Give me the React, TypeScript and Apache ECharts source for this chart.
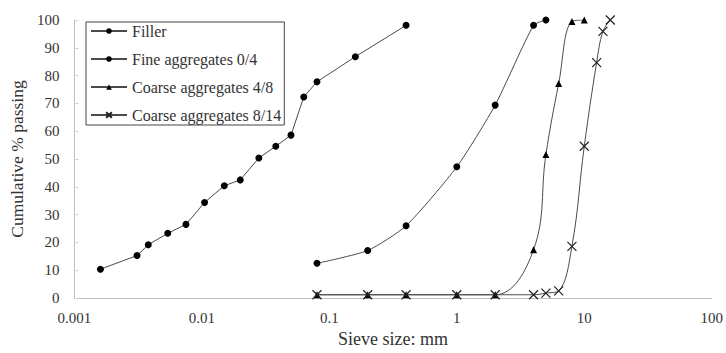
import React, { useEffect, useRef } from "react";
import * as echarts from "echarts";

const xTickLabels = ["0.001", "0.01", "0.1", "1", "10", "100"];

const fillerSizes = [0.0016, 0.0031, 0.0038, 0.0054, 0.0075, 0.0105, 0.015, 0.02, 0.028, 0.038, 0.05, 0.063, 0.08, 0.16, 0.4];
const fillerPassing = [10.4, 15.3, 19.2, 23.3, 26.5, 34.4, 40.4, 42.5, 50.4, 54.6, 58.6, 72.3, 77.8, 86.8, 98.1];

const fineSizes = [0.08, 0.2, 0.4, 1, 2, 4, 5];
const finePassing = [12.5, 17.1, 26.0, 47.2, 69.4, 98.1, 100];

const coarse48Sizes = [0.08, 0.2, 0.4, 1, 2, 4, 5, 6.3, 8, 10];
const coarse48Passing = [1.2, 1.2, 1.2, 1.2, 1.2, 17.4, 51.6, 77.2, 99.5, 100];

const coarse814Sizes = [0.08, 0.2, 0.4, 1, 2, 4, 5, 6.3, 8, 10, 12.5, 14, 16];
const coarse814Passing = [1.2, 1.2, 1.2, 1.2, 1.2, 1.2, 1.8, 2.6, 18.6, 54.6, 84.7, 95.9, 100];

const seriesNames = ["Filler", "Fine aggregates 0/4", "Coarse aggregates 4/8", "Coarse aggregates 8/14"];

const FONT = "'Liberation Serif', 'DejaVu Serif', serif";
const LINE = "#4a4a4a";
const MARK = "#000";
const TEXT = "#333";

function pairs(xs: number[], ys: number[]) {
  return xs.map((x, i) => [x, ys[i]]);
}

export default function App() {
  const ref = useRef<HTMLDivElement>(null);
  useEffect(() => {
    if (!ref.current) return;
    const chart = echarts.init(ref.current, null, { renderer: "svg" });
    const crossPath = "path://M0,0L10,10M10,0L0,10";
    chart.setOption({
      animation: false,
      backgroundColor: "#fff",
      textStyle: { fontFamily: FONT },
      grid: { left: 72, right: 14, top: 20, bottom: 50 },
      legend: {
        orient: "vertical",
        left: 86,
        top: 22,
        padding: [1, 3, 2, 4],
        itemWidth: 36,
        itemHeight: 7,
        itemGap: 12,
        borderColor: "#444",
        borderWidth: 1,
        backgroundColor: "#fff",
        textStyle: { fontFamily: FONT, fontSize: 16, color: TEXT },
        data: seriesNames,
      },
      xAxis: {
        type: "log",
        logBase: 10,
        min: 0.001,
        max: 100,
        name: "Sieve size: mm",
        nameLocation: "middle",
        nameGap: 30,
        nameTextStyle: { fontFamily: FONT, fontSize: 18, color: TEXT },
        axisLine: { show: true, lineStyle: { color: "#c0c0c0", width: 1 } },
        axisTick: { show: false },
        minorTick: { show: false },
        splitLine: { show: false },
        axisLabel: {
          fontFamily: FONT,
          fontSize: 15,
          color: TEXT,
          margin: 12,
          formatter: (v: number) => {
            const i = Math.round(Math.log10(v)) + 3;
            return xTickLabels[i] ?? String(v);
          },
        },
      },
      yAxis: {
        type: "value",
        min: 0,
        max: 100,
        interval: 10,
        name: "Cumulative % passing",
        nameLocation: "middle",
        nameGap: 46,
        nameTextStyle: { fontFamily: FONT, fontSize: 17.5, color: TEXT },
        axisLine: { show: true, lineStyle: { color: "#c0c0c0", width: 1 } },
        axisTick: { show: true, inside: true, length: 4, lineStyle: { color: "#d4d4d4" } },
        splitLine: { show: false },
        axisLabel: { fontFamily: FONT, fontSize: 15, color: TEXT, margin: 15 },
      },
      series: [
        {
          name: seriesNames[0],
          type: "line",
          data: pairs(fillerSizes, fillerPassing),
          symbol: "circle",
          symbolSize: 7,
          itemStyle: { color: MARK },
          lineStyle: { color: LINE, width: 1 },
          smooth: false,
        },
        {
          name: seriesNames[1],
          type: "line",
          data: pairs(fineSizes, finePassing),
          symbol: "circle",
          symbolSize: 7,
          itemStyle: { color: MARK },
          lineStyle: { color: LINE, width: 1 },
          smooth: 0.2,
        },
        {
          name: seriesNames[2],
          type: "line",
          data: pairs(coarse48Sizes, coarse48Passing),
          symbol: "triangle",
          symbolSize: 7,
          itemStyle: { color: MARK },
          lineStyle: { color: LINE, width: 1 },
          smooth: 0.4,
        },
        {
          name: seriesNames[3],
          type: "line",
          data: pairs(coarse814Sizes, coarse814Passing),
          symbol: crossPath,
          symbolSize: 9,
          itemStyle: { color: "none", borderColor: "#222", borderWidth: 1.2 },
          lineStyle: { color: LINE, width: 1 },
          smooth: 0.4,
        },
      ],
    });
    return () => chart.dispose();
  }, []);
  return (
    <div
      ref={ref}
      style={{ position: "fixed", left: 0, top: 0, width: 726, height: 353, background: "#fff" }}
    />
  );
}
